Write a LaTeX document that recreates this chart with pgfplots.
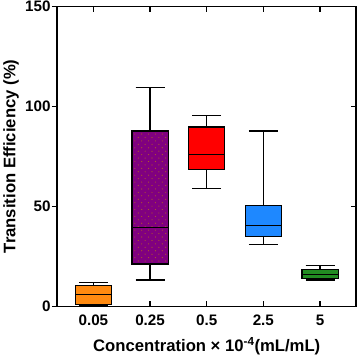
\documentclass[border=0pt]{standalone}
\usepackage{pgfplots}
\pgfplotsset{compat=1.18}
\usepgfplotslibrary{statistics}
\usetikzlibrary{patterns}
\usepackage{fontspec}
\setmainfont{Liberation Sans}

\definecolor{cOrange}{HTML}{FF8A10}
\definecolor{cPurple}{HTML}{800080}
\definecolor{cRed}{HTML}{FF0000}
\definecolor{cBlue}{HTML}{1E88FF}
\definecolor{cGreen}{HTML}{228B22}
\definecolor{cDot}{HTML}{B05A28}

% sparse brownish speckles on the purple box
\pgfdeclarepatternformonly{sparse dots}{\pgfqpoint{-1pt}{-1pt}}{\pgfqpoint{8pt}{8pt}}{\pgfqpoint{7pt}{7pt}}{%
  \pgfpathcircle{\pgfqpoint{1pt}{1.5pt}}{0.6pt}%
  \pgfpathcircle{\pgfqpoint{4.5pt}{5pt}}{0.6pt}%
  \pgfusepath{fill}}

\pgfplotsset{
  base/.style={
    width=305pt, height=306pt, scale only axis,
    xmin=0.36, xmax=5.64, ymin=0, ymax=150,
    axis line style={line width=1.6pt},
    major tick style={line width=1.6pt, black},
    major tick length=5.5pt,
    xtick={1,2,3,4,5}, ytick={0,50,100,150},
  },
  bw/.style={draw=black, line width=1.3pt,
    boxplot/every whisker/.append style={line width=1.3pt},
    boxplot/every median/.append style={line width=1.3pt},
    boxplot/every box/.append style={line width=1.3pt}},
}

\begin{document}
\begin{tikzpicture}
% inward ticks on top, bottom and right (under the boxes)
\begin{axis}[base, tick align=inside, xtick pos=both, ytick pos=right,
  xticklabels={}, yticklabels={}]
\addplot[draw=none] coordinates {(1,0)};
\end{axis}

\begin{axis}[base, tick align=outside, ytick pos=left, xtick pos=bottom,
  xtick style={draw=none},
  xticklabels={0.05,0.25,0.5,2.5,5},
  yticklabels={0,50,100,150},
  ticklabel style={font=\bfseries\fontsize{15.5}{17}\selectfont},
  yticklabel style={inner sep=1pt},
  label style={font=\bfseries\fontsize{17}{19}\selectfont},
  xlabel={Concentration × 10\textsuperscript{-4}(mL/mL)},
  ylabel={Transition Efficiency (\%)},
  xlabel style={yshift=-5pt},
  ylabel style={yshift=2pt},
  boxplot/draw direction=y,
  boxplot/box extend=0.64,
]
\addplot+[bw, fill=cOrange, boxplot prepared={draw position=1,
  lower whisker=0.4, lower quartile=0.8, median=6.0,
  upper quartile=10.4, upper whisker=11.8}] coordinates {};
\addplot+[bw, fill=cPurple,
  boxplot/every box/.append style={postaction={pattern=sparse dots, pattern color=cDot}},
  boxplot prepared={draw position=2,
  lower whisker=13.2, lower quartile=21.2, median=39.5,
  upper quartile=87.7, upper whisker=109.5}] coordinates {};
\addplot+[bw, fill=cRed, boxplot prepared={draw position=3,
  lower whisker=58.8, lower quartile=68.5, median=76.1,
  upper quartile=89.7, upper whisker=95.6}] coordinates {};
\addplot+[bw, fill=cBlue, boxplot prepared={draw position=4,
  lower whisker=31.0, lower quartile=35.1, median=40.3,
  upper quartile=50.5, upper whisker=87.7}] coordinates {};
\addplot+[bw, fill=cGreen, boxplot prepared={draw position=5,
  lower whisker=13.2, lower quartile=13.9, median=15.8,
  upper quartile=18.5, upper whisker=20.3}] coordinates {};
\end{axis}
\end{tikzpicture}
\end{document}
